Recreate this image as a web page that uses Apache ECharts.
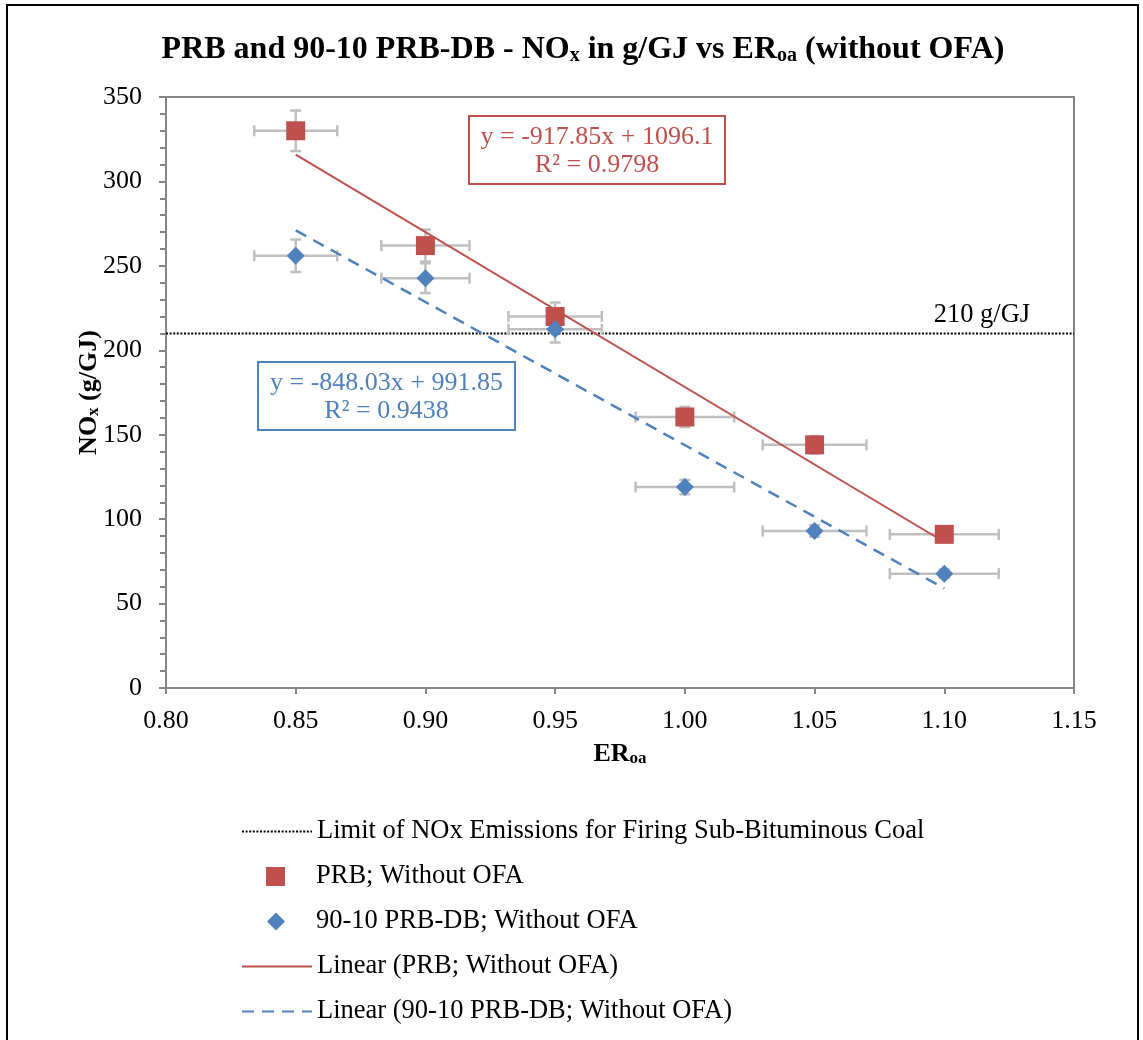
<!DOCTYPE html>
<html>
<head>
<meta charset="utf-8">
<script src="https://cdn.jsdelivr.net/npm/echarts@6/dist/echarts.min.js"></script>
<style>
  html, body { margin: 0; padding: 0; background: #fff; }
  #chart { width: 1143px; height: 1040px; }
</style>
</head>
<body>
<div id="chart"></div>
<script>
// Equivalence ratio (ERoa) settings tested, with their horizontal uncertainty
const erValues = [0.85, 0.90, 0.95, 1.00, 1.05, 1.10];
const erErrors = [0.016, 0.017, 0.018, 0.019, 0.020, 0.021];

// NOx emissions, g/GJ, without over-fire air
const prbNox = [330, 262, 220, 160.5, 144, 91];
const prbNoxErrors = [12, 9.5, 8.3, 6, 5.2, 3.3];
const blendNox = [256, 242.7, 212.5, 119, 93, 67.7];
const blendNoxErrors = [9.6, 8.8, 7.9, 4.3, 3.4, 2.4];

// Least-squares fits: [slope, intercept] and R²
const prbFit = [-917.85, 1096.1];
const prbR2 = '0.9798';
const blendFit = [-848.03, 991.85];
const blendR2 = '0.9438';

// Regulatory limit for sub-bituminous coal
const noxLimit = 210;

// Axis ranges and tick steps
const xRange = [0.80, 1.15];
const xStep = 0.05;
const yRange = [0, 350];
const yStep = 50;

const SERIF = '"Liberation Serif", "Times New Roman", serif';
const RED = '#c0504d';
const BLUE = '#4f81bd';
const GREY = '#868686';

const names = {
  limit: 'Limit of NOx Emissions for Firing Sub-Bituminous Coal',
  prb: 'PRB; Without OFA',
  blend: '90-10 PRB-DB; Without OFA',
  prbFit: 'Linear (PRB; Without OFA)',
  blendFit: 'Linear (90-10 PRB-DB; Without OFA)'
};

const fitLine = (fit) => [erValues[0], erValues[erValues.length - 1]].map(x => [x, fit[0] * x + fit[1]]);
const fmtFit = (fit) => 'y = ' + fit[0].toFixed(2) + 'x + ' + String(fit[1]);

function errorBars(values, yErrors) {
  return {
    type: 'custom',
    silent: true,
    z: 2,
    data: erValues.map((x, i) => [x, values[i], erErrors[i], yErrors[i]]),
    encode: { x: 0, y: 1 },
    renderItem(params, api) {
      const x = api.value(0), y = api.value(1), dx = api.value(2), dy = api.value(3);
      const l = api.coord([x - dx, y]), r = api.coord([x + dx, y]);
      const t = api.coord([x, y + dy]), b = api.coord([x, y - dy]);
      const cap = 5.5;
      const style = { stroke: '#bfbfbf', lineWidth: 2.5 };
      const seg = (x1, y1, x2, y2) => ({ type: 'line', shape: { x1, y1, x2, y2 }, style });
      return {
        type: 'group',
        children: [
          seg(l[0], l[1], r[0], r[1]),
          seg(l[0], l[1] - cap, l[0], l[1] + cap),
          seg(r[0], r[1] - cap, r[0], r[1] + cap),
          seg(t[0], t[1], b[0], b[1]),
          seg(t[0] - cap, t[1], t[0] + cap, t[1]),
          seg(b[0] - cap, b[1], b[0] + cap, b[1])
        ]
      };
    }
  };
}

// Legend: one entry per row, line keys 70px wide, marker keys centred over them
const LEGEND_FONT = 26.5;
const legendRows = [
  { item: { name: names.limit, itemStyle: { opacity: 0 } }, left: 241, w: 70, h: 20, pad: 0 },
  { item: { name: names.prb }, left: 266, w: 19, h: 19, pad: 26 },
  { item: { name: names.blend }, left: 267, w: 18, h: 18, pad: 26 },
  { item: { name: names.prbFit, itemStyle: { opacity: 0 } }, left: 241, w: 70, h: 20, pad: 0 },
  { item: { name: names.blendFit, itemStyle: { opacity: 0 } }, left: 241, w: 70, h: 20, pad: 0 }
];
const legendCentres = [828, 873, 918, 963, 1008];

const chart = echarts.init(document.getElementById('chart'), null, { renderer: 'canvas' });

const richTitle = {
  b: { fontFamily: SERIF, fontSize: 32, fontWeight: 'bold', color: '#000', lineHeight: 43, verticalAlign: 'bottom' },
  s: { fontFamily: SERIF, fontSize: 20, fontWeight: 'bold', color: '#000', lineHeight: 20, verticalAlign: 'bottom' }
};
const richAxis = {
  b: { fontFamily: SERIF, fontSize: 26, fontWeight: 'bold', color: '#000', lineHeight: 34, verticalAlign: 'bottom' },
  s: { fontFamily: SERIF, fontSize: 17, fontWeight: 'bold', color: '#000', lineHeight: 17, verticalAlign: 'bottom' }
};

chart.setOption({
  animation: false,
  backgroundColor: '#fff',
  title: {
    text: '{b|PRB and 90-10 PRB-DB - NO}{s|x}{b| in g/GJ vs ER}{s|oa}{b| (without OFA)}',
    left: 578, top: 18, textAlign: 'center',
    textStyle: { rich: richTitle }
  },
  grid: {
    left: 166, right: 69, top: 97, bottom: 352,
    show: true, borderColor: GREY, borderWidth: 2, backgroundColor: 'transparent'
  },
  xAxis: {
    type: 'value', min: xRange[0], max: xRange[1], interval: xStep,
    name: '{b|ER}{s|oa}', nameLocation: 'middle', nameGap: 45,
    nameTextStyle: { rich: richAxis },
    axisLine: { onZero: false, lineStyle: { color: GREY, width: 2 } },
    axisTick: { show: true, length: 6, lineStyle: { color: GREY, width: 2 } },
    axisLabel: {
      fontFamily: SERIF, fontSize: 26, color: '#000', margin: 20,
      formatter: v => v.toFixed(2)
    },
    splitLine: { show: false }
  },
  yAxis: {
    type: 'value', min: yRange[0], max: yRange[1], interval: yStep,
    name: '{b|NO}{s|x}{b| (g/GJ)}', nameLocation: 'middle', nameGap: 64, nameRotate: 90,
    nameMoveOverlap: false,
    nameTextStyle: { rich: richAxis },
    axisLine: { show: true, lineStyle: { color: GREY, width: 2 } },
    axisTick: { show: true, length: 7, lineStyle: { color: GREY, width: 2 } },
    minorTick: { show: true, splitNumber: 5, length: 6, lineStyle: { color: GREY, width: 2 } },
    axisLabel: { fontFamily: SERIF, fontSize: 26, color: '#000', margin: 24 },
    splitLine: { show: false },
    minorSplitLine: { show: false }
  },
  legend: legendRows.map((row, i) => ({
    data: [row.item],
    left: row.left,
    top: legendCentres[i] - 10,
    orient: 'vertical',
    padding: 0,
    itemWidth: row.w,
    itemHeight: row.h,
    selectedMode: false,
    textStyle: {
      fontFamily: SERIF, fontSize: LEGEND_FONT, color: '#000', lineHeight: 20,
      padding: [0, 0, 0, row.pad]
    }
  })),
  series: [
    {
      name: names.limit, type: 'line', symbol: 'none', z: 1,
      data: [[xRange[0], noxLimit], [xRange[1], noxLimit]],
      lineStyle: { color: '#000', width: 2, type: [2, 1.6] },
      itemStyle: { color: '#000' }
    },
    errorBars(prbNox, prbNoxErrors),
    errorBars(blendNox, blendNoxErrors),
    {
      name: names.prbFit, type: 'line', symbol: 'none', z: 3,
      data: fitLine(prbFit),
      lineStyle: { color: RED, width: 2 },
      itemStyle: { color: RED }
    },
    {
      name: names.blendFit, type: 'line', symbol: 'none', z: 3,
      data: fitLine(blendFit),
      lineStyle: { color: BLUE, width: 2.5, type: [12, 8] },
      itemStyle: { color: BLUE }
    },
    {
      name: names.prb, type: 'scatter', symbol: 'rect', symbolSize: 19, z: 4,
      data: erValues.map((x, i) => [x, prbNox[i]]),
      itemStyle: { color: RED, opacity: 1 }
    },
    {
      name: names.blend, type: 'scatter', symbol: 'diamond', symbolSize: 18, z: 4,
      data: erValues.map((x, i) => [x, blendNox[i]]),
      itemStyle: { color: BLUE, opacity: 1 }
    }
  ]
});

// Limit annotation and fitted-equation boxes
const limitPos = chart.convertToPixel({ gridIndex: 0 }, [1.1145, noxLimit]);
function eqBox(x, y, w, h, color, fit, r2) {
  return {
    type: 'group', left: x, top: y, z: 50,
    children: [
      { type: 'rect', shape: { x: 0, y: 0, width: w, height: h }, style: { fill: '#fff', stroke: color, lineWidth: 2 } },
      { type: 'text', x: w / 2, y: 21, style: { text: fmtFit(fit), fill: color, font: '26px ' + SERIF, textAlign: 'center', textVerticalAlign: 'middle' } },
      { type: 'text', x: w / 2, y: 49, style: { text: 'R² = ' + r2, fill: color, font: '26px ' + SERIF, textAlign: 'center', textVerticalAlign: 'middle' } }
    ]
  };
}
chart.setOption({
  graphic: [
    { type: 'rect', shape: { x: 7, y: 5, width: 1131, height: 1060 }, style: { fill: 'none', stroke: '#000', lineWidth: 2 }, z: 100, silent: true },
    { type: 'text', x: limitPos[0], y: limitPos[1] - 18, z: 50,
      style: { text: noxLimit + ' g/GJ', fill: '#000', font: '26.5px ' + SERIF, textAlign: 'center', textVerticalAlign: 'middle' } },
    eqBox(468, 115, 256, 68, RED, prbFit, prbR2),
    eqBox(257, 361, 257, 68, BLUE, blendFit, blendR2)
  ]
});
</script>
</body>
</html>
